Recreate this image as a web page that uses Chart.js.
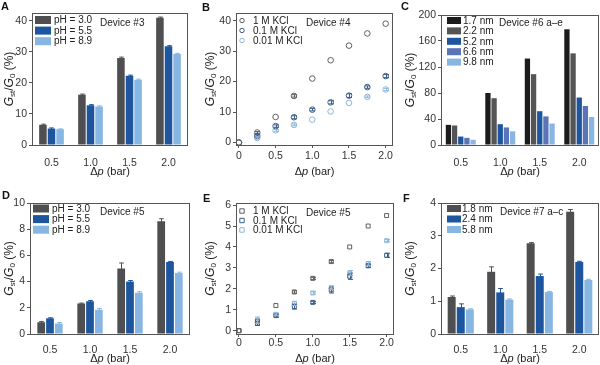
<!DOCTYPE html>
<html>
<head>
<meta charset="utf-8">
<script src="https://cdn.jsdelivr.net/npm/chart.js@4.4.0/dist/chart.umd.min.js"></script>
<style>
body { margin: 0; background: #fff; width: 600px; height: 365px; position: relative; overflow: hidden; font-family: "Liberation Sans", Arial, sans-serif; }
canvas { position: absolute; }
.lbl { position: absolute; font-weight: bold; font-size: 11px; color: #111; }
</style>
</head>
<body>
<canvas id="cA" width="200" height="182" style="left:0;top:0"></canvas>
<canvas id="cB" width="200" height="182" style="left:200px;top:0"></canvas>
<canvas id="cC" width="200" height="182" style="left:400px;top:0"></canvas>
<canvas id="cD" width="200" height="183" style="left:0;top:182px"></canvas>
<canvas id="cE" width="200" height="183" style="left:200px;top:182px"></canvas>
<canvas id="cF" width="200" height="183" style="left:400px;top:182px"></canvas>
<div class="lbl" style="left:1px;top:0">A</div>
<div class="lbl" style="left:202px;top:1px">B</div>
<div class="lbl" style="left:401px;top:0">C</div>
<div class="lbl" style="left:2px;top:189px">D</div>
<div class="lbl" style="left:203px;top:192px">E</div>
<div class="lbl" style="left:403px;top:192px">F</div>
<script>
// ---- data ----
var pressureLabels = ['0.5', '1.0', '1.5', '2.0'];
var pressureX = [0, 0.25, 0.5, 0.75, 1.0, 1.25, 1.5, 1.75, 2.0];

// A: device #3, pH series
var phLabels = ['pH = 3.0', 'pH = 5.5', 'pH = 8.9'];
var aPh30 = [6.5, 16.2, 28.0, 41.0];
var aPh55 = [5.3, 12.8, 22.3, 31.8];
var aPh89 = [5.1, 12.4, 21.0, 29.3];
var aErr30 = [0.2, 0.2, 0.3, 0.2];
var aErr55 = [0.2, 0.2, 0.2, 0.2];
var aErr89 = [0.1, 0.2, 0.2, 0.2];

// B: device #4, KCl concentration (circles)
var kclLabels = ['1 M KCl', '0.1 M KCl', '0.01 M KCl'];
var b1M = [0, 3.3, 8.4, 15.3, 21.0, 27.0, 31.8, 35.8, 39.0];
var b01M = [0, 2.2, 5.4, 8.3, 10.8, 13.2, 15.4, 18.2, 21.8];
var b001M = [0, 1.5, 4.0, 5.8, 7.5, 10.2, 13.0, 15.0, 17.4];
var bErr1M = [0, 0.3, 0, 0.4, 0, 0, 0, 0, 0];
var bErr01M = [0, 0.4, 0.4, 0.5, 0.4, 0.5, 0.6, 0.4, 0.5];
var bErr001M = [0, 0.4, 0.3, 0.3, 0, 0, 0, 0.3, 0.4];

// C: device #6 a-e, channel height series
var heightLabelsC = ['1.7 nm', '2.2 nm', '5.2 nm', '6.6 nm', '9.8 nm'];
var c17 = [31, 80, 133, 178];
var c22 = [30, 72, 109, 141];
var c52 = [13, 32, 52, 73];
var c66 = [11, 27, 44, 60];
var c98 = [8, 21, 33, 43];

// D: device #5, pH series
var dPh30 = [0.9, 2.33, 5.0, 8.6];
var dPh55 = [1.2, 2.5, 4.0, 5.5];
var dPh89 = [0.8, 1.85, 3.15, 4.65];
var dErr30 = [0.06, 0.03, 0.42, 0.2];
var dErr55 = [0.04, 0.06, 0.08, 0.04];
var dErr89 = [0.08, 0.1, 0.08, 0.07];

// E: device #5, KCl concentration (squares)
var e1M = [0, 0.45, 1.2, 1.85, 2.5, 3.3, 4.0, 5.0, 5.5];
var e01M = [0, 0.35, 0.72, 1.15, 1.35, 1.95, 2.6, 3.1, 3.6];
var e001M = [0, 0.5, 0.78, 1.3, 1.8, 2.05, 2.75, 3.2, 4.3];
var eErr1M = [0, 0, 0, 0.06, 0.05, 0.06, 0, 0, 0];
var eErr01M = [0, 0.1, 0.08, 0.12, 0.05, 0.15, 0.15, 0.08, 0.1];
var eErr001M = [0, 0.15, 0.06, 0.1, 0.06, 0.08, 0.12, 0.1, 0.05];

// F: device #7 a-c, channel height series
var heightLabelsF = ['1.8 nm', '2.4 nm', '5.8 nm'];
var f18 = [1.13, 1.9, 2.77, 3.73];
var f24 = [0.82, 1.27, 1.77, 2.2];
var f58 = [0.75, 1.05, 1.28, 1.65];
var fErr18 = [0.03, 0.15, 0.02, 0.07];
var fErr24 = [0.1, 0.12, 0.06, 0.02];
var fErr58 = [0.02, 0.02, 0.02, 0.02];

// ---- colours ----
var GRAY = '#4f4f51';
var BLUE = '#1d559e';
var LIGHT = '#88b6e3';
var BLACK = '#1c1c1c';
var MID = '#5b74b8';

var FONT = '"Liberation Sans", Arial, sans-serif';
Chart.defaults.font.family = FONT;
Chart.defaults.font.size = 10;
Chart.defaults.color = '#333';

// frame around the plot area
var framePlugin = {
    id: 'frame',
    afterDraw: function(chart) {
        var a = chart.chartArea, ctx = chart.ctx;
        ctx.save();
        ctx.strokeStyle = '#555';
        ctx.lineWidth = 1;
        ctx.strokeRect(Math.round(a.left) + 0.5, Math.round(a.top) + 0.5,
            Math.round(a.right - a.left) - 1, Math.round(a.bottom - a.top));
        ctx.restore();
    }
};

// vertical error bars from dataset.errors
var errorPlugin = {
    id: 'errbars',
    afterDatasetsDraw: function(chart) {
        var ctx = chart.ctx, ys = chart.scales.y;
        chart.data.datasets.forEach(function(ds, di) {
            if (!ds.errors) return;
            var meta = chart.getDatasetMeta(di);
            ctx.save();
            ctx.strokeStyle = ds.errColor || ds.backgroundColor;
            ctx.lineWidth = 1;
            meta.data.forEach(function(el, i) {
                var err = ds.errors[i];
                if (!err) return;
                var v = typeof ds.data[i] === 'object' ? ds.data[i].y : ds.data[i];
                var x = Math.round(el.x) + 0.5;
                var y1 = ys.getPixelForValue(v + err), y2 = ys.getPixelForValue(v - err);
                var half = el.width ? el.width * 0.3 : 2.5;
                ctx.beginPath();
                ctx.moveTo(x, y1); ctx.lineTo(x, y2);
                ctx.moveTo(x - half, y1); ctx.lineTo(x + half, y1);
                if (!el.width) { ctx.moveTo(x - half, y2); ctx.lineTo(x + half, y2); }
                ctx.stroke();
            });
            ctx.restore();
        });
    }
};

// legend, device text and axis titles
var textPlugin = {
    id: 'panel',
    afterDraw: function(chart, args, p) {
        var ctx = chart.ctx, a = chart.chartArea;
        ctx.save();
        ctx.font = '10px ' + FONT;
        ctx.textBaseline = 'middle';
        chart.data.datasets.forEach(function(ds, i) {
            var y = p.legY + i * p.legDy;
            if (p.marker) {
                ctx.strokeStyle = ds.borderColor;
                ctx.lineWidth = 1;
                ctx.beginPath();
                if (p.marker === 'circle') ctx.arc(p.legX, y, 2.2, 0, Math.PI * 2);
                else ctx.rect(p.legX - 2.2, y - 2.2, 4.4, 4.4);
                ctx.stroke();
            } else {
                ctx.fillStyle = ds.backgroundColor;
                ctx.fillRect(p.legX, y - p.bh / 2, p.bw, p.bh);
            }
            ctx.fillStyle = '#222';
            ctx.textAlign = 'left';
            ctx.fillText(ds.label, p.textX, y + 0.5);
        });
        ctx.fillText(p.device, p.devX, p.devY);

        // x title: Δp (bar)
        var cx = (a.left + a.right) / 2;
        var f1 = '11px ' + FONT, f2 = 'italic 11px ' + FONT;
        ctx.font = f1; var w1 = ctx.measureText('\u0394').width, w3 = ctx.measureText(' (bar)').width;
        ctx.font = f2; var w2 = ctx.measureText('p').width;
        var x0 = cx - (w1 + w2 + w3) / 2;
        ctx.font = f1; ctx.fillText('\u0394', x0, p.xTitleY);
        ctx.font = f2; ctx.fillText('p', x0 + w1, p.xTitleY);
        ctx.font = f1; ctx.fillText(' (bar)', x0 + w1 + w2, p.xTitleY);

        // y title: G_st/G_0 (%)
        ctx.translate(p.yTitleX, (a.top + a.bottom) / 2);
        ctx.rotate(-Math.PI / 2);
        var parts = [['G', 'italic 12px ', 0], ['st', '8px ', 3], ['/', '12px ', 0],
                     ['G', 'italic 12px ', 0], ['0', '8px ', 3], [' (%)', '12px ', 0]];
        var total = 0;
        parts.forEach(function(pt) { ctx.font = pt[1] + FONT; total += ctx.measureText(pt[0]).width; });
        var px = -total / 2;
        parts.forEach(function(pt) {
            ctx.font = pt[1] + FONT;
            ctx.fillText(pt[0], px, pt[2]);
            px += ctx.measureText(pt[0]).width;
        });
        ctx.restore();
    }
};

function fmtX(v) {
    return v === 0 ? '0' : v.toFixed(1);
}

function buildOptions(p, xScale, yScale) {
    xScale.afterFit = function(s) { s.height = p.xh; s.paddingLeft = 0; s.paddingRight = 0; };
    yScale.afterFit = function(s) { s.width = p.yw; s.paddingTop = 0; s.paddingBottom = 0; };
    xScale.border = { display: false };
    yScale.border = { display: false };
    yScale.grid = { drawOnChartArea: false, tickLength: 3, color: '#555' };
    yScale.ticks = Object.assign({ padding: 2, color: '#333', font: { size: 10.5 } }, yScale.ticks || {});
    return {
        responsive: false,
        animation: false,
        layout: { padding: { left: 0, top: p.top, right: p.right, bottom: 0 } },
        plugins: { legend: { display: false }, tooltip: { enabled: false }, panel: p },
        scales: { x: xScale, y: yScale }
    };
}

function barSet(label, data, color, errors, cp, bp) {
    return { label: label, data: data, backgroundColor: color, errors: errors,
        borderWidth: 0, categoryPercentage: cp, barPercentage: bp };
}

function pts(values) {
    var out = [];
    for (var i = 0; i < values.length; i++) out.push({ x: pressureX[i], y: values[i] });
    return out;
}

function scatterSet(label, values, color, errors, style) {
    return { label: label, data: pts(values), borderColor: color, errors: errors, errColor: color,
        backgroundColor: 'rgba(0,0,0,0)', pointStyle: style, pointRadius: 2.8, borderWidth: 1 };
}

function buildBarChart(id, sets, p, yMax, yStep) {
    var ctx = document.getElementById(id).getContext('2d');
    new Chart(ctx, {
        type: 'bar',
        data: { labels: pressureLabels, datasets: sets },
        options: buildOptions(p,
            { type: 'category', offset: true, grid: { display: false },
              ticks: { padding: p.xPad, color: '#333', font: { size: 10.5 } } },
            { type: 'linear', min: 0, max: yMax, ticks: { stepSize: yStep, includeBounds: false } }),
        plugins: [framePlugin, errorPlugin, textPlugin]
    });
}

function buildScatterChart(id, sets, p, yMin, yMax, yStep) {
    var ctx = document.getElementById(id).getContext('2d');
    new Chart(ctx, {
        type: 'scatter',
        data: { datasets: sets },
        options: buildOptions(p,
            { type: 'linear', min: -0.04, max: 2.1,
              grid: { drawOnChartArea: false, tickLength: 3, color: '#555' },
              ticks: { stepSize: 0.5, includeBounds: false, padding: Math.max(p.xPad - 2, 0), color: '#333',
                       font: { size: 10.5 }, callback: fmtX } },
            { type: 'linear', min: yMin, max: yMax, ticks: { stepSize: yStep, includeBounds: false } }),
        plugins: [framePlugin, errorPlugin, textPlugin]
    });
}

// A
buildBarChart('cA', [
    barSet(phLabels[0], aPh30, GRAY, aErr30, 0.66, 0.88),
    barSet(phLabels[1], aPh55, BLUE, aErr55, 0.66, 0.88),
    barSet(phLabels[2], aPh89, LIGHT, aErr89, 0.66, 0.88)
], { yw: 32, xh: 37, top: 13, right: 12, legX: 35, legY: 20, legDy: 10.6, bw: 16, bh: 8, textX: 54,
     device: 'Device #3', devX: 100, devY: 23, xTitleY: 172, yTitleX: 10, xPad: 4 }, 42.5, 10);

// B
buildScatterChart('cB', [
    scatterSet(kclLabels[0], b1M, '#5e5e60', bErr1M, 'circle'),
    scatterSet(kclLabels[1], b01M, '#3a5d86', bErr01M, 'circle'),
    scatterSet(kclLabels[2], b001M, '#8db6d8', bErr001M, 'circle')
], { yw: 36, xh: 37, top: 13, right: 7, marker: 'circle', legX: 42, legY: 20.5, legDy: 10, textX: 53,
     device: 'Device #4', devX: 106, devY: 23, xTitleY: 172, yTitleX: 11, xPad: 4 }, -0.8, 42.5, 10);

// C
buildBarChart('cC', [
    barSet(heightLabelsC[0], c17, BLACK, null, 0.78, 0.86),
    barSet(heightLabelsC[1], c22, '#555557', null, 0.78, 0.86),
    barSet(heightLabelsC[2], c52, BLUE, null, 0.78, 0.86),
    barSet(heightLabelsC[3], c66, MID, null, 0.78, 0.86),
    barSet(heightLabelsC[4], c98, LIGHT, null, 0.78, 0.86)
], { yw: 41, xh: 37, top: 15, right: 1, legX: 47, legY: 20.5, legDy: 10.4, bw: 14, bh: 7, textX: 63,
     device: 'Device #6 a\u2013e', devX: 99, devY: 23, xTitleY: 172, yTitleX: 11, xPad: 4 }, 200, 40);

// D
buildBarChart('cD', [
    barSet(phLabels[0], dPh30, GRAY, dErr30, 0.66, 0.88),
    barSet(phLabels[1], dPh55, BLUE, dErr55, 0.66, 0.88),
    barSet(phLabels[2], dPh89, LIGHT, dErr89, 0.66, 0.88)
], { yw: 30, xh: 31, top: 21, right: 10, legX: 33, legY: 26.5, legDy: 10.6, bw: 16, bh: 8, textX: 52,
     device: 'Device #5', devX: 100, devY: 30, xTitleY: 177, yTitleX: 10, xPad: 2 }, 10, 2);

// E
buildScatterChart('cE', [
    scatterSet(kclLabels[0], e1M, '#5e5e60', eErr1M, 'rect'),
    scatterSet(kclLabels[1], e01M, '#3a5d86', eErr01M, 'rect'),
    scatterSet(kclLabels[2], e001M, '#8db6d8', eErr001M, 'rect')
], { yw: 36, xh: 31, top: 21, right: 6, marker: 'rect', legX: 42, legY: 29, legDy: 9.5, textX: 53,
     device: 'Device #5', devX: 106, devY: 31, xTitleY: 177, yTitleX: 11, xPad: 2 }, -0.16, 6.1, 1);

// F
buildBarChart('cF', [
    barSet(heightLabelsF[0], f18, GRAY, fErr18, 0.69, 0.88),
    barSet(heightLabelsF[1], f24, BLUE, fErr24, 0.69, 0.88),
    barSet(heightLabelsF[2], f58, LIGHT, fErr58, 0.69, 0.88)
], { yw: 41, xh: 31, top: 21, right: 1, legX: 47, legY: 26.5, legDy: 10.5, bw: 14, bh: 7, textX: 62,
     device: 'Device #7 a\u2013c', devX: 100, devY: 30, xTitleY: 177, yTitleX: 11, xPad: 2 }, 4, 1);
</script>
</body>
</html>
